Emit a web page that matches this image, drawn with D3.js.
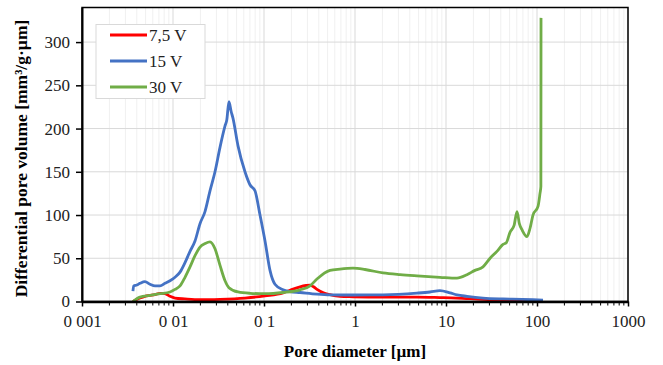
<!DOCTYPE html>
<html><head><meta charset="utf-8">
<script src="https://cdn.jsdelivr.net/npm/d3@7"></script>
<style>
html,body{margin:0;padding:0;background:#fff;}
svg{display:block;font-family:"Liberation Serif","Times New Roman",serif;}
</style></head>
<body><svg id="c" width="663" height="365"></svg>
<script>
// ---- data (pore diameter in µm, differential pore volume in mm³/g·µm)
const seriesNames = ["7,5 V", "15 V", "30 V"];
const seriesColors = ["#FF0000", "#4472C4", "#70AD47"];

const d75 = [0.00363,0.00434,0.00492,0.00559,0.00634,0.0072,0.00817,0.00927,0.01052,0.0135,0.0198,0.0328,0.0618,0.1026,0.162,0.193,0.249,0.29,0.32,0.35,0.382,0.45,0.531,0.684,0.951,2.03,4.8,8.59,13.2,25.5,68.4,116.4];
const v75 = [0,4,6,7,8,9.5,9,6,4,3,2,2.5,4,6.5,10,13,17,18.5,19,17,14,10,8,6,5.5,5,5,4.5,4,2.5,1.5,1];

const d15 = [0.00363,0.0037,0.0040,0.00434,0.00492,0.00559,0.00634,0.0072,0.00817,0.00927,0.01052,0.01194,0.01355,0.01538,0.01745,0.0198,0.02247,0.0255,0.02894,0.0328,0.0373,0.039,0.0412,0.0435,0.0456,0.0518,0.0618,0.0701,0.0796,0.0904,0.1026,0.1164,0.132,0.162,0.193,0.249,0.382,0.531,0.951,2.03,4.8,6.67,8.59,11.07,13.2,17,25.5,42.3,68.4,90.3,116.4];
const v15 = [12,18,19,21,23,20,18,18,21,24,28,34,45,58,70,90,104,128,150,178,203,210,231,220,212,180,150,135,128,100,70,36,20,13.5,11.5,10.4,8.5,7.7,7.5,7.7,9.7,11,12.5,10,7.7,6,4,3,2.5,2,1.5];

const d30 = [0.00363,0.00434,0.00559,0.0072,0.00927,0.01052,0.01194,0.01355,0.01538,0.01745,0.0198,0.0225,0.0255,0.02894,0.0328,0.0373,0.0412,0.0518,0.0701,0.1026,0.162,0.249,0.32,0.382,0.531,0.684,0.951,1.288,2.03,3.13,4.8,8.59,13.2,17,20.8,25.5,30.5,36.3,42.3,46,50.5,56,60.3,64,68.4,77.6,84,90.3,102.6,107.9,110.3,110.7];
const v30 = [0,5,7,9,11,14,18,28,40,53,63,67,69,61,42,24,16,11,9.5,9,10.4,13.5,18,26,36,37.5,38.5,37,33,31,29.6,28,27,31,36,40,50,58,66,68,80,88,104,90,83,75,85,100,110,125,133,328];

const xTickVals = [0.001,0.01,0.1,1,10,100,1000];
const xTickLabels = ["0 001","0 01","0 1","1","10","100","1000"];
const yTickVals = [0,50,100,150,200,250,300];

// ---- layout
const svg = d3.select("#c");
const L = 82, R = 628, T = 7.5, B = 301.5;
const x = d3.scaleLog().domain([0.001, 1000]).range([L, R]);
const y = d3.scaleLinear().domain([0, 340]).range([B, T]);

// minor vertical gridlines
const minors = [];
for (let e = -3; e < 3; e++) for (let k = 2; k <= 9; k++) minors.push(k * Math.pow(10, e));
svg.append("g").selectAll("line").data(minors).join("line")
  .attr("x1", d => x(d)).attr("x2", d => x(d)).attr("y1", T).attr("y2", B)
  .attr("stroke", "#f0f0f0").attr("stroke-width", 1);
// major vertical gridlines
svg.append("g").selectAll("line").data(xTickVals).join("line")
  .attr("x1", d => x(d)).attr("x2", d => x(d)).attr("y1", T).attr("y2", B)
  .attr("stroke", "#d9d9d9").attr("stroke-width", 1);
// horizontal gridlines
svg.append("g").selectAll("line").data(yTickVals).join("line")
  .attr("x1", L).attr("x2", R).attr("y1", d => y(d)).attr("y2", d => y(d))
  .attr("stroke", "#d9d9d9").attr("stroke-width", 1);

// series
const series = [[d75, v75], [d15, v15], [d30, v30]];
const line = d3.line().x(d => x(d[0])).y(d => y(d[1])).curve(d3.curveMonotoneX);
series.forEach((s, i) => {
  const pts = s[0].map((d, j) => [d, s[1][j]]);
  svg.append("path").datum(pts).attr("d", line)
    .attr("fill", "none").attr("stroke", seriesColors[i]).attr("stroke-width", 2.8)
    .attr("stroke-linejoin", "round");
});

// frame
svg.append("rect").attr("x", L).attr("y", T).attr("width", R - L).attr("height", B - T)
  .attr("fill", "none").attr("stroke", "#000").attr("stroke-width", 1.5);

// x axis
const xAxis = d3.axisBottom(x).tickValues(xTickVals).tickFormat((d, i) => xTickLabels[i]).tickSize(5).tickSizeOuter(0);
const gx = svg.append("g").attr("transform", `translate(0,${B})`).call(xAxis);
gx.select(".domain").attr("stroke", "#000").attr("stroke-width", 2.5);
gx.selectAll(".tick line").attr("stroke", "#000").attr("stroke-width", 1.5);
gx.selectAll(".tick text").attr("font-size", 17).attr("fill", "#222").attr("dy", "1.05em")
  .attr("font-family", "Liberation Serif");
// minor ticks
gx.append("g").selectAll("line").data(minors).join("line")
  .attr("x1", d => x(d)).attr("x2", d => x(d)).attr("y1", 0).attr("y2", 4)
  .attr("stroke", "#000").attr("stroke-width", 1);

// y axis
const yAxis = d3.axisLeft(y).tickValues(yTickVals).tickSize(6).tickSizeOuter(0).tickPadding(6);
const gy = svg.append("g").attr("transform", `translate(${L},0)`).call(yAxis);
gy.select(".domain").attr("stroke", "#000").attr("stroke-width", 2);
gy.selectAll(".tick line").attr("stroke", "#000").attr("stroke-width", 1.5);
gy.selectAll(".tick text").attr("font-size", 17).attr("fill", "#222")
  .attr("font-family", "Liberation Serif");

// axis titles
svg.append("text").attr("x", (L + R) / 2).attr("y", 357).attr("text-anchor", "middle")
  .attr("font-weight", "bold").attr("font-size", 17).text("Pore diameter [µm]");
svg.append("text").attr("transform", `translate(27,${(T + B) / 2 + 4}) rotate(-90)`)
  .attr("text-anchor", "middle").attr("font-weight", "bold").attr("font-size", 17.5)
  .text("Differential pore volume [mm³/g·µm]");

// legend
const lg = svg.append("g");
lg.append("rect").attr("x", 96).attr("y", 24.5).attr("width", 109).attr("height", 74)
  .attr("fill", "#fff").attr("stroke", "#d9d9d9").attr("stroke-width", 1);
seriesNames.forEach((n, i) => {
  const yy = 35 + i * 26;
  lg.append("line").attr("x1", 110).attr("x2", 147).attr("y1", yy).attr("y2", yy)
    .attr("stroke", seriesColors[i]).attr("stroke-width", 2.8);
  lg.append("text").attr("x", 149).attr("y", yy + 6).attr("font-size", 17).attr("fill", "#222").text(n);
});
</script></body></html>
